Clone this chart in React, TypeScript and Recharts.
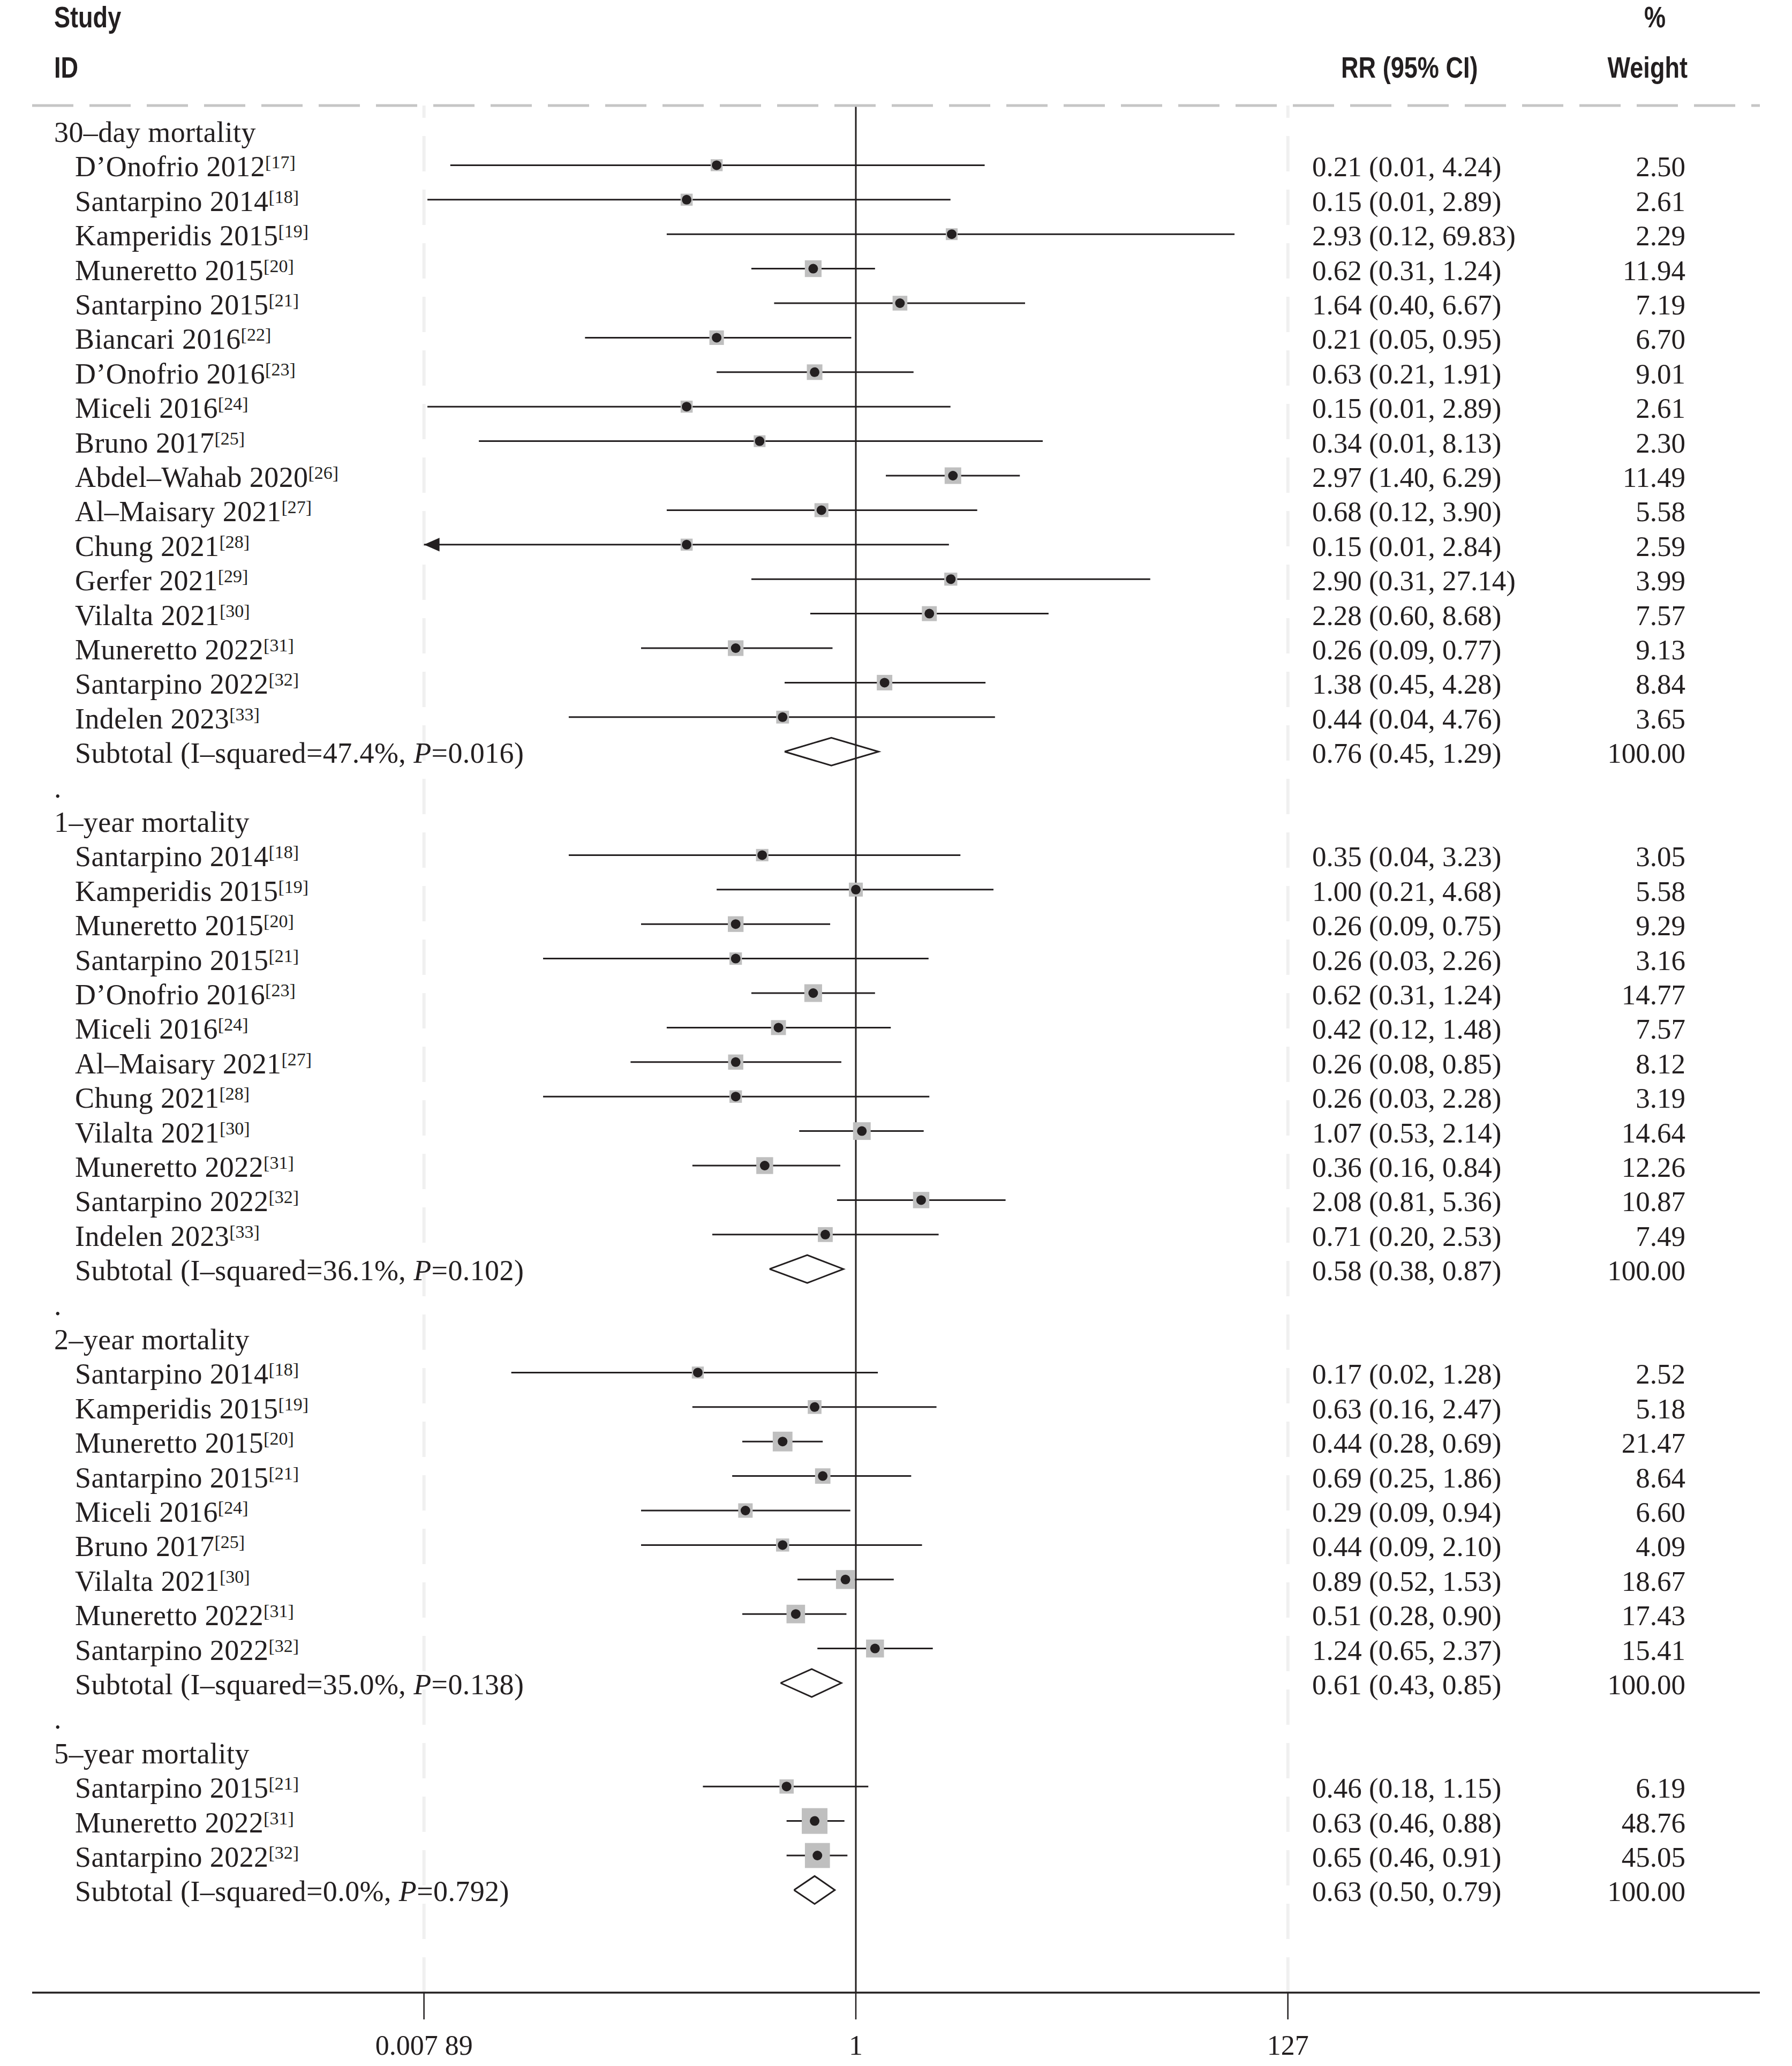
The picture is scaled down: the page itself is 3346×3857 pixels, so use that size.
import { ErrorBar, ReferenceLine, Scatter, ScatterChart, XAxis, YAxis } from 'recharts';

const W = 3346;
const H = 3857;
const INK = '#231f20';
const SERIF = '"Liberation Serif", "Times New Roman", serif';
const SANS = '"Liberation Sans", Arial, sans-serif';

// ---- data ----
const groupTitles = ['30–day mortality', '1–year mortality', '2–year mortality', '5–year mortality'];

const studies30 = [
  'D’Onofrio 2012', 'Santarpino 2014', 'Kamperidis 2015', 'Muneretto 2015', 'Santarpino 2015',
  'Biancari 2016', 'D’Onofrio 2016', 'Miceli 2016', 'Bruno 2017', 'Abdel–Wahab 2020',
  'Al–Maisary 2021', 'Chung 2021', 'Gerfer 2021', 'Vilalta 2021', 'Muneretto 2022',
  'Santarpino 2022', 'Indelen 2023',
];
const refs30 = [17, 18, 19, 20, 21, 22, 23, 24, 25, 26, 27, 28, 29, 30, 31, 32, 33];
const rr30 = [0.21, 0.15, 2.93, 0.62, 1.64, 0.21, 0.63, 0.15, 0.34, 2.97, 0.68, 0.15, 2.90, 2.28, 0.26, 1.38, 0.44];
const lo30 = [0.0106, 0.0082, 0.12, 0.31, 0.40, 0.048, 0.21, 0.0082, 0.0146, 1.40, 0.12, 0.0075, 0.31, 0.60, 0.09, 0.45, 0.04];
const hi30 = [4.24, 2.89, 69.83, 1.24, 6.67, 0.95, 1.91, 2.89, 8.13, 6.29, 3.90, 2.84, 27.14, 8.68, 0.77, 4.28, 4.76];
const wt30 = [2.50, 2.61, 2.29, 11.94, 7.19, 6.70, 9.01, 2.61, 2.30, 11.49, 5.58, 2.59, 3.99, 7.57, 9.13, 8.84, 3.65];

const studies1 = [
  'Santarpino 2014', 'Kamperidis 2015', 'Muneretto 2015', 'Santarpino 2015', 'D’Onofrio 2016',
  'Miceli 2016', 'Al–Maisary 2021', 'Chung 2021', 'Vilalta 2021', 'Muneretto 2022',
  'Santarpino 2022', 'Indelen 2023',
];
const refs1 = [18, 19, 20, 21, 23, 24, 27, 28, 30, 31, 32, 33];
const rr1 = [0.35, 1.00, 0.26, 0.26, 0.62, 0.42, 0.26, 0.26, 1.07, 0.36, 2.08, 0.71];
const lo1 = [0.04, 0.21, 0.09, 0.03, 0.31, 0.12, 0.08, 0.03, 0.53, 0.16, 0.81, 0.20];
const hi1 = [3.23, 4.68, 0.75, 2.26, 1.24, 1.48, 0.85, 2.28, 2.14, 0.84, 5.36, 2.53];
const wt1 = [3.05, 5.58, 9.29, 3.16, 14.77, 7.57, 8.12, 3.19, 14.64, 12.26, 10.87, 7.49];

const studies2 = [
  'Santarpino 2014', 'Kamperidis 2015', 'Muneretto 2015', 'Santarpino 2015', 'Miceli 2016',
  'Bruno 2017', 'Vilalta 2021', 'Muneretto 2022', 'Santarpino 2022',
];
const refs2 = [18, 19, 20, 21, 24, 25, 30, 31, 32];
const rr2 = [0.17, 0.63, 0.44, 0.69, 0.29, 0.44, 0.89, 0.51, 1.24];
const lo2 = [0.021, 0.16, 0.28, 0.25, 0.09, 0.09, 0.52, 0.28, 0.65];
const hi2 = [1.28, 2.47, 0.69, 1.86, 0.94, 2.10, 1.53, 0.90, 2.37];
const wt2 = [2.52, 5.18, 21.47, 8.64, 6.60, 4.09, 18.67, 17.43, 15.41];

const studies5 = ['Santarpino 2015', 'Muneretto 2022', 'Santarpino 2022'];
const refs5 = [21, 31, 32];
const rr5 = [0.46, 0.63, 0.65];
const lo5 = [0.18, 0.46, 0.46];
const hi5 = [1.15, 0.88, 0.91];
const wt5 = [6.19, 48.76, 45.05];

const subRR = [0.76, 0.58, 0.61, 0.63];
const subLo = [0.45, 0.38, 0.43, 0.50];
const subHi = [1.29, 0.87, 0.85, 0.79];
const subI2 = [47.4, 36.1, 35.0, 0.0];
const subP = [0.016, 0.102, 0.138, 0.792];

const xTicks = [0.00789, 1, 127];
const xTickLabels = ['0.007 89', '1', '127'];

// ---- layout ----
const PLOT_LEFT = 60;
const PLOT_RIGHT = 3286;
const PLOT_TOP = 197;
const PLOT_BOTTOM = 3720;
const NULL_PX = 1598;
const PX_PER_LN = 166.53;
const XMIN = Math.exp((PLOT_LEFT - NULL_PX) / PX_PER_LN);
const XMAX = Math.exp((PLOT_RIGHT - NULL_PX) / PX_PER_LN);
const ROW0_PX = 244;
const ROW_PX = 64.4;
const Y_TOP = -(ROW0_PX - PLOT_TOP) / ROW_PX;
const Y_BOTTOM = 51 + (PLOT_BOTTOM - (ROW0_PX + 51 * ROW_PX)) / ROW_PX;
const DIAMOND_HALF = 26 / ROW_PX;

const X_HEAD = 101;
const X_STUDY = 140;
const X_RR = 2450;
const X_WT = 3147;

type Row = {
  kind: 'header' | 'study' | 'subtotal' | 'gap';
  label: string;
  ref?: number;
  rr?: number;
  lo?: number;
  hi?: number;
  w?: number;
  i2?: number;
  p?: number;
};

const groupData = [
  [studies30, refs30, rr30, lo30, hi30, wt30],
  [studies1, refs1, rr1, lo1, hi1, wt1],
  [studies2, refs2, rr2, lo2, hi2, wt2],
  [studies5, refs5, rr5, lo5, hi5, wt5],
] as const;

const rows: Row[] = [];
groupData.forEach(([names, refs, rr, lo, hi, wt], g) => {
  if (g > 0) rows.push({ kind: 'gap', label: '.' });
  rows.push({ kind: 'header', label: groupTitles[g] });
  (names as readonly string[]).forEach((n, i) => {
    rows.push({
      kind: 'study', label: n, ref: (refs as readonly number[])[i],
      rr: (rr as readonly number[])[i], lo: (lo as readonly number[])[i],
      hi: (hi as readonly number[])[i], w: (wt as readonly number[])[i],
    });
  });
  rows.push({
    kind: 'subtotal', label: 'Subtotal', rr: subRR[g], lo: subLo[g], hi: subHi[g],
    w: 100, i2: subI2[g], p: subP[g],
  });
});

// one invisible anchor per row; its shape draws the row's text columns at the row's y
const labelPoints = rows.map((r, i) => ({ x: 1, y: i, row: r }));

const studyPoints = rows
  .map((r, i) => ({ r, i }))
  .filter(({ r }) => r.kind === 'study')
  .map(({ r, i }) => ({
    x: r.rr!,
    y: i,
    w: r.w!,
    err: [r.rr! - Math.max(r.lo!, xTicks[0]), r.hi! - r.rr!],
  }));

const arrowPoints = rows
  .map((r, i) => ({ r, i }))
  .filter(({ r }) => r.kind === 'study' && r.lo! < xTicks[0])
  .map(({ i }) => ({ x: xTicks[0], y: i }));

const diamonds = rows
  .map((r, i) => ({ r, i }))
  .filter(({ r }) => r.kind === 'subtotal')
  .map(({ r, i }) => [
    { x: r.lo!, y: i },
    { x: r.rr!, y: i - DIAMOND_HALF },
    { x: r.hi!, y: i },
    { x: r.rr!, y: i + DIAMOND_HALF },
    { x: r.lo!, y: i },
  ]);

const fmtCI = (r: Row) => `${r.rr!.toFixed(2)} (${r.lo!.toFixed(2)}, ${r.hi!.toFixed(2)})`;

// ---- renderers ----
const RowText = (props: any) => {
  const { cy, payload } = props;
  const r: Row = payload.row;
  const base = cy + 21;
  const common = { fontFamily: SERIF, fontSize: 53, fill: INK };
  const left = { fontFamily: SERIF, fontSize: 54, letterSpacing: 0.4, fill: INK };
  if (r.kind === 'gap' || r.kind === 'header') {
    return <text x={X_HEAD} y={base} {...left}>{r.label}</text>;
  }
  return (
    <g>
      {r.kind === 'study' ? (
        <text x={X_STUDY} y={base} {...left}>
          {r.label}
          <tspan fontSize={34} letterSpacing={0} dy={-15}>[{r.ref}]</tspan>
        </text>
      ) : (
        <text x={X_STUDY} y={base} {...left}>
          {`Subtotal (I–squared=${r.i2!.toFixed(1)}%, `}
          <tspan fontStyle="italic">P</tspan>
          {`=${r.p!.toFixed(3)})`}
        </text>
      )}
      <text x={X_RR} y={base} {...common}>{fmtCI(r)}</text>
      <text x={X_WT} y={base} textAnchor="end" {...common}>{r.w!.toFixed(2)}</text>
    </g>
  );
};

const AxisTick = (props: any) => {
  const { x, y, payload } = props;
  const idx = xTicks.indexOf(payload.value);
  return (
    <text x={x} y={y + 66} textAnchor="middle" fontFamily={SERIF} fontSize={52} fill={INK}>
      {idx >= 0 ? xTickLabels[idx] : ''}
    </text>
  );
};

const BoxShape = (props: any) => {
  const { cx, cy, payload } = props;
  const s = 14.8 + 4.75 * Math.sqrt(payload.w);
  return <rect x={cx - s / 2} y={cy - s / 2} width={s} height={s} fill="#bfbfbf" />;
};

const DotShape = (props: any) => {
  const { cx, cy } = props;
  return <circle cx={cx} cy={cy} r={9} fill={INK} />;
};

const ArrowShape = (props: any) => {
  const { cx, cy } = props;
  return <path d={`M${cx},${cy} L${cx + 29},${cy - 12.7} L${cx + 29},${cy + 12.7} Z`} fill={INK} />;
};

const EmptyShape = () => <g />;

const App = () => (
  <div style={{ position: 'absolute', left: 0, top: 0, width: W, height: H, background: '#fff' }}>
    <ScatterChart width={W} height={H} margin={{ top: PLOT_TOP, right: W - PLOT_RIGHT, bottom: 0, left: PLOT_LEFT }}>
      <XAxis
        type="number"
        dataKey="x"
        scale="log"
        domain={[XMIN, XMAX]}
        allowDataOverflow
        ticks={xTicks}
        interval={0}
        tick={<AxisTick />}
        tickSize={50}
        tickMargin={0}
        height={H - PLOT_BOTTOM}
        axisLine={{ stroke: INK, strokeWidth: 3.5 }}
        tickLine={{ stroke: INK, strokeWidth: 2.5 }}
      />
      <YAxis
        type="number"
        dataKey="y"
        domain={[Y_TOP, Y_BOTTOM]}
        allowDataOverflow
        reversed
        hide
        width={0}
      />
      <ReferenceLine x={xTicks[0]} stroke="#f0f0f0" strokeWidth={6} strokeDasharray="66 34" />
      <ReferenceLine x={xTicks[2]} stroke="#f0f0f0" strokeWidth={6} strokeDasharray="66 34" />
      <ReferenceLine x={1} stroke={INK} strokeWidth={3} />
      <ReferenceLine y={Y_TOP} stroke="#c6c6c6" strokeWidth={5} strokeDasharray="77 30" />
      <Scatter data={labelPoints} shape={RowText} isAnimationActive={false} />
      <Scatter data={studyPoints} shape={BoxShape} isAnimationActive={false} />
      <Scatter data={studyPoints} shape={DotShape} isAnimationActive={false}>
        <ErrorBar dataKey="err" direction="x" width={0} stroke={INK} strokeWidth={3} isAnimationActive={false} />
      </Scatter>
      <Scatter data={arrowPoints} shape={ArrowShape} isAnimationActive={false} />
      {diamonds.map((d, i) => (
        <Scatter
          key={i}
          data={d}
          line={{ stroke: INK, strokeWidth: 3, strokeLinejoin: 'miter' }}
          lineType="joint"
          shape={EmptyShape}
          isAnimationActive={false}
        />
      ))}
    </ScatterChart>
    <svg
      width={W}
      height={190}
      style={{ position: 'absolute', left: 0, top: 0, pointerEvents: 'none' }}
    >
      <g transform="scale(0.82,1)" fontFamily={SANS} fontWeight="bold" fontSize={55} fill={INK}>
        <text x={X_HEAD / 0.82} y={51}>Study</text>
        <text x={X_HEAD / 0.82} y={145}>ID</text>
        <text x={3090 / 0.82} y={51} textAnchor="middle">%</text>
        <text x={2504 / 0.82} y={145}>RR (95% CI)</text>
        <text x={3151 / 0.82} y={145} textAnchor="end">Weight</text>
      </g>
    </svg>
  </div>
);

export default App;
